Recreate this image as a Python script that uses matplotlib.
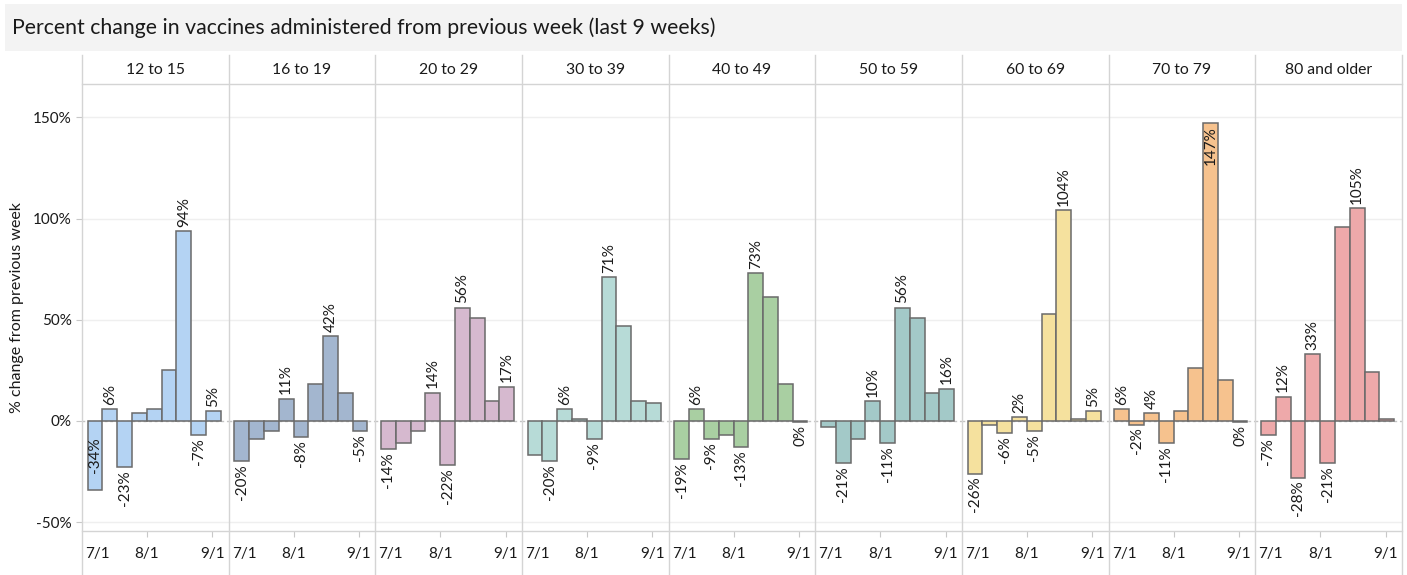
import numpy as np
import pandas as pd
import matplotlib
matplotlib.use('Agg')
import matplotlib.pyplot as plt
from matplotlib.lines import Line2D
from matplotlib.patches import Rectangle

plt.rcParams['font.family'] = ['Lato', 'DejaVu Sans']

# ---- data ----
groups = ['12 to 15', '16 to 19', '20 to 29', '30 to 39', '40 to 49',
          '50 to 59', '60 to 69', '70 to 79', '80 and older']
week_starts = pd.to_datetime(['2021-07-04', '2021-07-11', '2021-07-18', '2021-07-25',
                              '2021-08-01', '2021-08-08', '2021-08-15', '2021-08-22',
                              '2021-08-29'])

pct_12_15 = [-34, 6, -23, 4, 6, 25, 94, -7, 5]
pct_16_19 = [-20, -9, -5, 11, -8, 18, 42, 14, -5]
pct_20_29 = [-14, -11, -5, 14, -22, 56, 51, 10, 17]
pct_30_39 = [-17, -20, 6, 1, -9, 71, 47, 10, 9]
pct_40_49 = [-19, 6, -9, -7, -13, 73, 61, 18, -0.4]
pct_50_59 = [-3, -21, -9, 10, -11, 56, 51, 14, 16]
pct_60_69 = [-26, -2, -6, 2, -5, 53, 104, 1, 5]
pct_70_79 = [6, -2, 4, -11, 5, 26, 147, 20, -0.4]
pct_80_up = [-7, 12, -28, 33, -21, 96, 105, 24, 1]
series = [pct_12_15, pct_16_19, pct_20_29, pct_30_39, pct_40_49,
          pct_50_59, pct_60_69, pct_70_79, pct_80_up]

# which bars carry a value label (index of the week)
labelled = [[0, 1, 2, 6, 7, 8], [0, 3, 4, 6, 8], [0, 3, 4, 5, 8], [1, 2, 4, 5],
            [0, 1, 2, 4, 5, 8], [1, 3, 4, 5, 8], [0, 2, 3, 4, 6, 8],
            [0, 1, 2, 3, 6, 8], [0, 1, 2, 3, 4, 6]]
inside = [(0, 0), (7, 6)]   # labels drawn inside the bar

colors = ['#b4d3f3', '#a3b6cf', '#d6b9cf', '#b7dbd7', '#a9cfa2',
          '#a3c9c8', '#f5e19e', '#f6c28e', '#eea9aa']

yticks = [-50, 0, 50, 100, 150]

# ---- layout (pixels) ----
W, H = 1407, 575
fig = plt.figure(figsize=(W / 100, H / 100), dpi=100)
left, right = 82, 1402
pw = (right - left) / 9
top_px, bot_px = 84, 531
line_c = '#d4d4d4'
txt_c = '#1a1a1a'

def fx(x): return x / W
def fy(y): return 1 - y / H

# title bar
fig.patches.append(Rectangle((fx(5), fy(51)), fx(1397), 47 / H, transform=fig.transFigure,
                             facecolor='#f3f3f3', edgecolor='none', zorder=0))
fig.text(fx(12), fy(28), 'Percent change in vaccines administered from previous week (last 9 weeks)',
         fontsize=15.3, va='center', ha='left', color=txt_c)

fig.text(fx(17), fy(308), '% change from previous week', rotation=90,
         fontsize=11.5, va='center', ha='center', color=txt_c)

for i, g in enumerate(groups):
    x0 = left + i * pw
    ax = fig.add_axes([fx(x0), fy(bot_px), pw / W, (bot_px - top_px) / H])
    vals = series[i]
    for t in [-50, 50, 100, 150]:
        ax.axhline(t, color='#efefef', lw=1, zorder=0)
    ax.axhline(0, color='#c4c4c4', lw=1, ls=(0, (2, 2)), zorder=1)
    ax.bar(week_starts, vals, width=7, align='edge', color=colors[i],
           edgecolor='#6a6a6a', lw=1.1, zorder=2)
    for j in labelled[i]:
        v = vals[j]
        xc = week_starts[j] + pd.Timedelta(days=3.5)
        if (i, j) in inside:
            off, va = (-2, 'top') if v > 0 else (12, 'bottom')
        else:
            off, va = (3, 'bottom') if v > 0 else (-2, 'top')
        ax.annotate(f'{round(v)}%', (xc, v), xytext=(0, off), textcoords='offset points',
                    rotation=90, ha='center', va=va, fontsize=11, color=txt_c, zorder=3)
    ax.set_xlim(pd.Timestamp('2021-07-01 07:00'), pd.Timestamp('2021-09-08 18:00'))
    ax.set_ylim(-54.4, 166.5)
    ax.set_xticks([pd.Timestamp('2021-08-01'), pd.Timestamp('2021-09-01')])
    ax.set_xticklabels(['8/1', '9/1'])
    ax.tick_params(axis='x', length=4.3, color='#c8c8c8', labelsize=11, pad=7.5,
                   labelcolor=txt_c)
    if i == 0:
        ax.set_yticks(yticks)
        ax.set_yticklabels([f'{t}%' for t in yticks])
        ax.tick_params(axis='y', length=4.3, color='#c8c8c8', labelsize=11, pad=3,
                       labelcolor=txt_c)
    else:
        ax.set_yticks([])
    for s in ax.spines.values():
        s.set_visible(False)
    ax.patch.set_alpha(0)
    fig.text(fx(x0 + 3), fy(bot_px + 6 + 10.4), '7/1', fontsize=11, ha='left', va='top',
             color=txt_c)
    fig.text(fx(x0 + pw / 2), fy(70), g, fontsize=11.3, ha='center', va='center',
             color=txt_c)

# panel frame lines
for k in range(10):
    xb = fx(left + k * pw)
    fig.lines.append(Line2D([xb, xb], [fy(55), 0], transform=fig.transFigure,
                            color=line_c, lw=1))
for yb in [top_px, bot_px]:
    fig.lines.append(Line2D([fx(left), fx(right)], [fy(yb), fy(yb)],
                            transform=fig.transFigure, color=line_c, lw=1))

fig.savefig('out.png', dpi=100)
